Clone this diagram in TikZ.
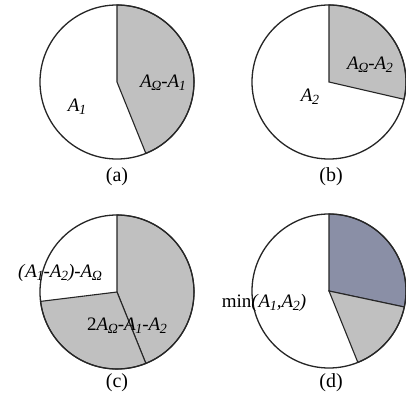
\documentclass[tikz,border=0pt]{standalone}
\usepackage{fontspec}
\setmainfont{Liberation Serif}
\usepackage{xcolor}
\usetikzlibrary{positioning,calc}
\definecolor{shadegray}{RGB}{192,192,192}
\definecolor{slateblue}{RGB}{138,143,166}
\newcommand{\sbs}[1]{\raisebox{-0.3ex}{\fontsize{14}{14}\selectfont\textit{#1}}}
\newcommand{\Asub}[1]{\textit{A}\kern-0.5pt\sbs{#1}}
\begin{document}
\begin{tikzpicture}[x=1pt,y=1pt,
  rim/.style={line width=1.3pt,draw=gray!30!black},
  sg/.style={fill=shadegray,draw=gray!30!black,line width=1.1pt},
  sd/.style={fill=slateblue,draw=gray!30!black,line width=1.1pt},
  lb/.style={font=\fontsize{19}{21}\selectfont,inner sep=0pt},
  cp/.style={font=\fontsize{20}{22}\selectfont,inner sep=0pt}
]
\def\r{77}
\useasboundingbox[fill=white] (0,0) rectangle (406,402);
%--- (a): A1 and the rest ---
\begin{scope}[shift={(117,320)}]
  \coordinate (ca) at (0,0);
  \filldraw[sg] (ca) -- (90:\r) arc[start angle=90,end angle=-68,radius=\r] -- cycle;
  \draw[rim] (ca) circle[radius=\r];
  \node[lb] (la1) at (46,-1) {\Asub{Ω}-\Asub{1}};
  \node[lb] (la2) at (-40,-25) {\Asub{1}};
  \node[cp] (capa) at (0,-95) {(a)};
\end{scope}
%--- (b): A2 and the rest ---
\begin{scope}[shift={(329,320)}]
  \coordinate (cb) at (0,0);
  \filldraw[sg] (cb) -- (90:\r) arc[start angle=90,end angle=-13,radius=\r] -- cycle;
  \draw[rim] (cb) circle[radius=\r];
  \node[lb] (lb1) at (41,17) {\Asub{Ω}-\Asub{2}};
  \node[lb] (lb2) at (-19,-15) {\Asub{2}};
  \node[cp] (capb) at (2,-95) {(b)};
\end{scope}
%--- (c): three sectors ---
\begin{scope}[shift={(117,110)}]
  \coordinate (cc) at (0,0);
  \filldraw[sg] (cc) -- (90:\r) arc[start angle=90,end angle=-68,radius=\r] -- cycle;
  \filldraw[sg] (cc) -- (-68:\r) arc[start angle=-68,end angle=-173,radius=\r] -- cycle;
  \draw[rim] (cc) circle[radius=\r];
  \node[lb] (lc1) at (-57,19) {\textit{(}\Asub{1}-\Asub{2}\textit{)}-\Asub{Ω}};
  \node[lb] (lc2) at (10,-34) {2\Asub{Ω}-\Asub{1}-\Asub{2}};
  \node[cp] (capc) at (0,-91) {(c)};
\end{scope}
%--- (d): min of the two ---
\begin{scope}[shift={(329,111)}]
  \coordinate (cd) at (0,0);
  \filldraw[sd] (cd) -- (90:\r) arc[start angle=90,end angle=-12,radius=\r] -- cycle;
  \filldraw[sg] (cd) -- (-12:\r) arc[start angle=-12,end angle=-68,radius=\r] -- cycle;
  \draw[rim] (cd) circle[radius=\r];
  \node[lb] (ld1) at (-65,-12) {min\textit{(}\Asub{1}\textit{,}\Asub{2}\textit{)}};
  \node[cp] (capd) at (2,-92) {(d)};
\end{scope}
\end{tikzpicture}
\end{document}
